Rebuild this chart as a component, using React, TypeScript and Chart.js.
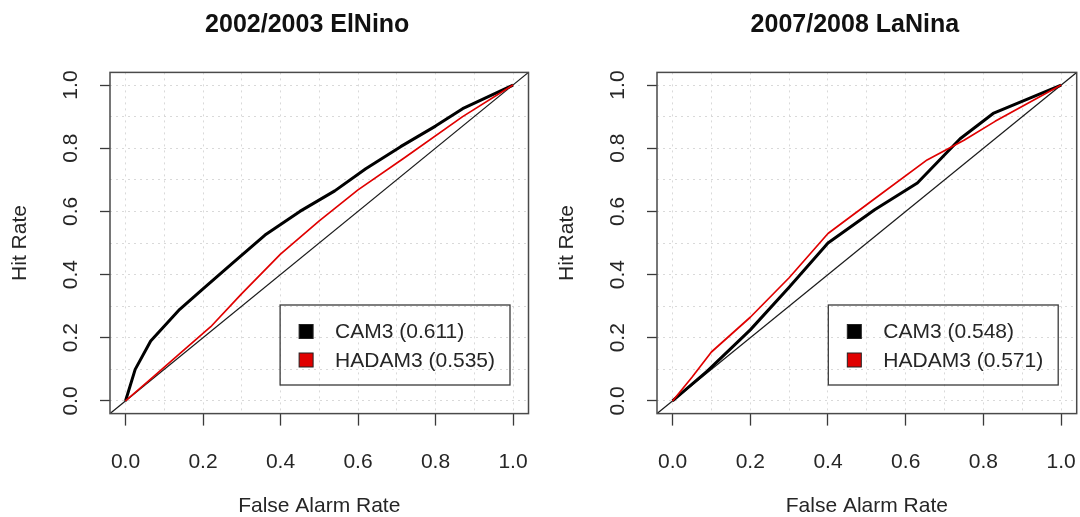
import React, { useEffect, useRef } from "react";
import { Chart, registerables } from "chart.js";

Chart.register(...registerables);

const FONT = '"Liberation Sans", Arial, Helvetica, sans-serif';

// Axis definitions (both axes share them)
const AXIS_TICKS = [0, 0.1, 0.2, 0.3, 0.4, 0.5, 0.6, 0.7, 0.8, 0.9, 1.0];
const AXIS_LABELS = ["0.0", "", "0.2", "", "0.4", "", "0.6", "", "0.8", "", "1.0"];
const AXIS_MIN = -0.04;
const AXIS_MAX = 1.04;
const X_TITLE = "False Alarm Rate";
const Y_TITLE = "Hit Rate";

// 2002/2003 El Nino
const ELNINO_TITLE = "2002/2003 ElNino";
const ELNINO_CAM3_FAR = [0, 0.025, 0.065, 0.14, 0.2, 0.28, 0.36, 0.45, 0.54, 0.62, 0.71, 0.8, 0.87, 1];
const ELNINO_CAM3_HR = [0, 0.1, 0.19, 0.29, 0.355, 0.44, 0.525, 0.6, 0.665, 0.735, 0.805, 0.87, 0.925, 1];
const ELNINO_HADAM3_FAR = [0, 0.07, 0.14, 0.22, 0.3, 0.4, 0.5, 0.6, 0.72, 0.87, 1];
const ELNINO_HADAM3_HR = [0, 0.075, 0.15, 0.235, 0.34, 0.465, 0.57, 0.668, 0.77, 0.9, 1];
const ELNINO_LEGEND = ["CAM3 (0.611)", "HADAM3 (0.535)"];

// 2007/2008 La Nina
const LANINA_TITLE = "2007/2008 LaNina";
const LANINA_CAM3_FAR = [0, 0.09, 0.2, 0.3, 0.4, 0.52, 0.63, 0.74, 0.825, 1];
const LANINA_CAM3_HR = [0, 0.095, 0.225, 0.36, 0.5, 0.605, 0.69, 0.83, 0.91, 1];
const LANINA_HADAM3_FAR = [0, 0.05, 0.1, 0.2, 0.3, 0.4, 0.52, 0.655, 0.75, 0.83, 1];
const LANINA_HADAM3_HR = [0, 0.075, 0.155, 0.265, 0.39, 0.53, 0.64, 0.763, 0.825, 0.885, 1];
const LANINA_LEGEND = ["CAM3 (0.548)", "HADAM3 (0.571)"];

const DIAGONAL = [AXIS_MIN, AXIS_MAX];

const SERIES_COLORS = ["#000000", "#e00000"];

const toPoints = (xs: number[], ys: number[]) => xs.map((x, i) => ({ x, y: ys[i] }));

const decorPlugin = {
  id: "decor",
  afterDraw(chart: any, _args: any, opts: any) {
    const { ctx, chartArea: a } = chart;
    ctx.save();
    // plot box
    ctx.strokeStyle = "#4a4a4a";
    ctx.lineWidth = 1.5;
    ctx.strokeRect(a.left, a.top, a.right - a.left, a.bottom - a.top);
    // title
    ctx.font = `bold 25px ${FONT}`;
    ctx.fillStyle = "#111";
    ctx.textAlign = "center";
    ctx.textBaseline = "middle";
    ctx.fillText(opts.title, (a.left + a.right) / 2 - 12, 25);
    // legend
    const labels: string[] = opts.labels;
    ctx.font = `21px ${FONT}`;
    const tw = Math.max(...labels.map((l) => ctx.measureText(l).width));
    const w = 55 + tw + 15;
    const h = 80;
    const right = a.right - 18.5;
    const bottom = a.bottom - 28.6;
    const left = right - w;
    const top = bottom - h;
    ctx.strokeStyle = "#3a3a3a";
    ctx.lineWidth = 1.3;
    ctx.strokeRect(left, top, w, h);
    labels.forEach((l, i) => {
      const cy = top + 26.5 + i * 28.5;
      ctx.fillStyle = SERIES_COLORS[i];
      ctx.fillRect(left + 19, cy - 7, 14, 14);
      ctx.strokeStyle = "#222";
      ctx.lineWidth = 1;
      ctx.strokeRect(left + 19, cy - 7, 14, 14);
      ctx.fillStyle = "#262626";
      ctx.textAlign = "left";
      ctx.textBaseline = "middle";
      ctx.fillText(l, left + 55, cy + 1);
    });
    ctx.restore();
  },
};

function axisOptions(isX: boolean) {
  return {
    type: "linear",
    position: isX ? "bottom" : "left",
    min: AXIS_MIN,
    max: AXIS_MAX,
    afterBuildTicks: (scale: any) => {
      scale.ticks = AXIS_TICKS.map((v) => ({ value: v }));
    },
    afterFit: (scale: any) => {
      if (isX) scale.height = 103.4;
      else scale.width = 110;
      scale.paddingLeft = 0;
      scale.paddingRight = 0;
      scale.paddingTop = 0;
      scale.paddingBottom = 0;
    },
    ticks: {
      autoSkip: false,
      minRotation: isX ? 0 : 90,
      maxRotation: isX ? 0 : 90,
      crossAlign: isX ? "near" : "center",
      padding: isX ? 24 : 14,
      color: "#262626",
      font: { family: FONT, size: 21 },
      callback: (_v: any, i: number) => AXIS_LABELS[i],
    },
    grid: {
      color: "#d9d9d9",
      lineWidth: 1,
      tickLength: isX ? 12 : 10,
      tickWidth: 1.3,
      tickColor: (c: any) => (AXIS_LABELS[c.index] ? "#3a3a3a" : "rgba(0,0,0,0)"),
      tickBorderDash: [],
    },
    border: { display: false, dash: [2, 4] },
    title: {
      display: true,
      text: isX ? X_TITLE : Y_TITLE,
      color: "#262626",
      font: { family: FONT, size: 21, lineHeight: isX ? 1 : 1.2 },
      padding: isX ? { top: 0, bottom: 0 } : { top: 7.4, bottom: 0 },
    },
  };
}

function RocChart(props: {
  title: string;
  camFar: number[];
  camHr: number[];
  hadFar: number[];
  hadHr: number[];
  legend: string[];
  padLeft: number;
  padRight: number;
}) {
  const ref = useRef<HTMLCanvasElement | null>(null);
  useEffect(() => {
    if (!ref.current) return;
    const chart = new Chart(ref.current, {
      type: "scatter",
      data: {
        datasets: [
          {
            label: props.legend[1],
            data: toPoints(props.hadFar, props.hadHr),
            showLine: true,
            borderColor: SERIES_COLORS[1],
            borderWidth: 1.7,
            pointRadius: 0,
            tension: 0,
            borderJoinStyle: "round",
            order: 1,
          },
          {
            label: props.legend[0],
            data: toPoints(props.camFar, props.camHr),
            showLine: true,
            borderColor: SERIES_COLORS[0],
            borderWidth: 3,
            pointRadius: 0,
            tension: 0,
            borderJoinStyle: "round",
            order: 2,
          },
          {
            label: "diagonal",
            data: toPoints(DIAGONAL, DIAGONAL),
            showLine: true,
            borderColor: "#1a1a1a",
            borderWidth: 1.2,
            pointRadius: 0,
            order: 3,
          },
        ],
      } as any,
      options: {
        responsive: false,
        animation: false,
        events: [],
        layout: { padding: { top: 72.4, bottom: 0, left: props.padLeft, right: props.padRight } },
        scales: { x: axisOptions(true), y: axisOptions(false) } as any,
        plugins: {
          legend: { display: false },
          tooltip: { enabled: false },
          title: { display: false },
          decor: { title: props.title, labels: props.legend },
        } as any,
      },
      plugins: [decorPlugin],
    });
    return () => chart.destroy();
  }, []);
  return <canvas ref={ref} width={540} height={517} style={{ display: "block" }} />;
}

export default function App() {
  return (
    <div
      style={{
        position: "absolute",
        left: 0,
        top: 0,
        width: 1080,
        height: 517,
        display: "flex",
        background: "#fff",
      }}
    >
      <RocChart
        title={ELNINO_TITLE}
        camFar={ELNINO_CAM3_FAR}
        camHr={ELNINO_CAM3_HR}
        hadFar={ELNINO_HADAM3_FAR}
        hadHr={ELNINO_HADAM3_HR}
        legend={ELNINO_LEGEND}
        padLeft={0}
        padRight={11.5}
      />
      <RocChart
        title={LANINA_TITLE}
        camFar={LANINA_CAM3_FAR}
        camHr={LANINA_CAM3_HR}
        hadFar={LANINA_HADAM3_FAR}
        hadHr={LANINA_HADAM3_HR}
        legend={LANINA_LEGEND}
        padLeft={7}
        padRight={3.3}
      />
    </div>
  );
}
